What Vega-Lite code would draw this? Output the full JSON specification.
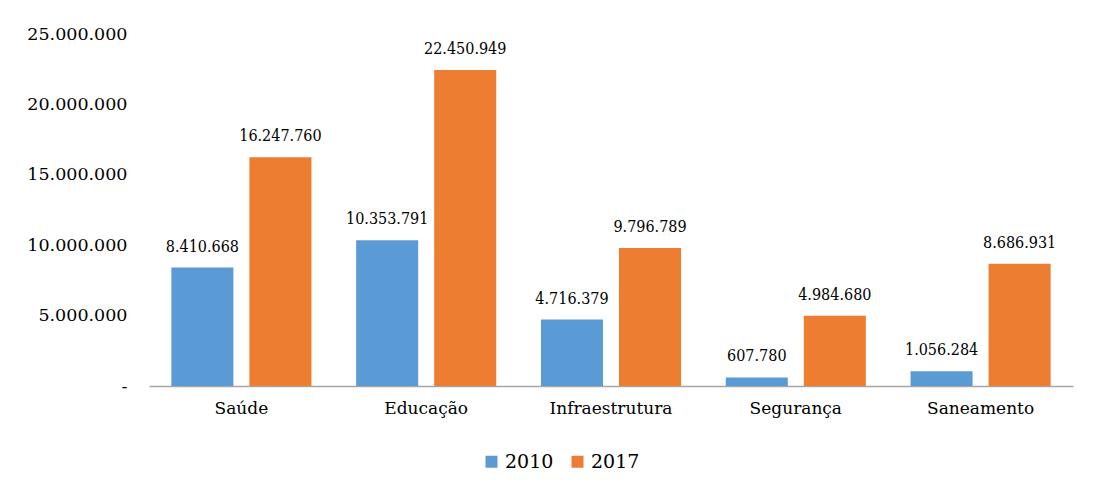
{
  "$schema": "https://vega.github.io/schema/vega-lite/v6.json",
  "width": 924,
  "height": 352,
  "autosize": {"type": "none"},
  "padding": {"left": 149, "top": 34, "right": 22, "bottom": 107},
  "background": "white",
  "data": {"values": [
    {"cat": "Saúde", "ano": "2010", "valor": 8410668},
    {"cat": "Saúde", "ano": "2017", "valor": 16247760},
    {"cat": "Educação", "ano": "2010", "valor": 10353791},
    {"cat": "Educação", "ano": "2017", "valor": 22450949},
    {"cat": "Infraestrutura", "ano": "2010", "valor": 4716379},
    {"cat": "Infraestrutura", "ano": "2017", "valor": 9796789},
    {"cat": "Segurança", "ano": "2010", "valor": 607780},
    {"cat": "Segurança", "ano": "2017", "valor": 4984680},
    {"cat": "Saneamento", "ano": "2010", "valor": 1056284},
    {"cat": "Saneamento", "ano": "2017", "valor": 8686931}
  ]},
  "encoding": {
    "x": {"field": "cat", "type": "nominal", "sort": null,
      "scale": {"paddingInner": 0.242, "paddingOuter": 0.121},
      "axis": {"title": null, "labelAngle": 0, "labelFontSize": 17, "labelPadding": 14, "ticks": false, "domainColor": "#a6a6a6", "domainWidth": 1.3, "labelColor": "#000000", "labelFont": "DejaVu Serif"}},
    "xOffset": {"field": "ano", "type": "nominal", "scale": {"paddingInner": 0.205, "paddingOuter": 0}},
    "y": {"field": "valor", "type": "quantitative",
      "scale": {"domain": [0, 25000000]},
      "axis": {"title": null, "grid": false, "domain": false, "ticks": false, "values": [0, 5000000, 10000000, 15000000, 20000000, 25000000], "labelOverlap": false, "format": ",d", "labelExpr": "datum.value == 0 ? '-' : datum.label", "labelFontSize": 17.5, "labelPadding": 22, "labelColor": "#000000", "labelFont": "DejaVu Serif"}}
  },
  "layer": [
    {"mark": {"type": "bar"},
     "encoding": {"color": {"field": "ano", "type": "nominal",
       "scale": {"domain": ["2010", "2017"], "range": ["#5B9BD5", "#ED7D31"]},
       "legend": {"title": null, "orient": "none", "legendX": 333, "legendY": 418, "direction": "horizontal", "symbolType": "square", "symbolSize": 144, "symbolStrokeWidth": 0, "labelFontSize": 19, "labelColor": "#000000", "columnPadding": 14, "labelOffset": 4, "labelFont": "DejaVu Serif"}}}},
    {"mark": {"type": "text", "baseline": "alphabetic", "dy": -16, "fontSize": 16, "color": "#000000", "font": "DejaVu Serif Condensed"},
     "encoding": {"text": {"field": "valor", "type": "quantitative", "format": ",d"}}}
  ],
  "config": {
    "locale": {"number": {"decimal": ",", "thousands": ".", "grouping": [3], "currency": ["R$", ""]}},
    "view": {"stroke": null}
  }
}
